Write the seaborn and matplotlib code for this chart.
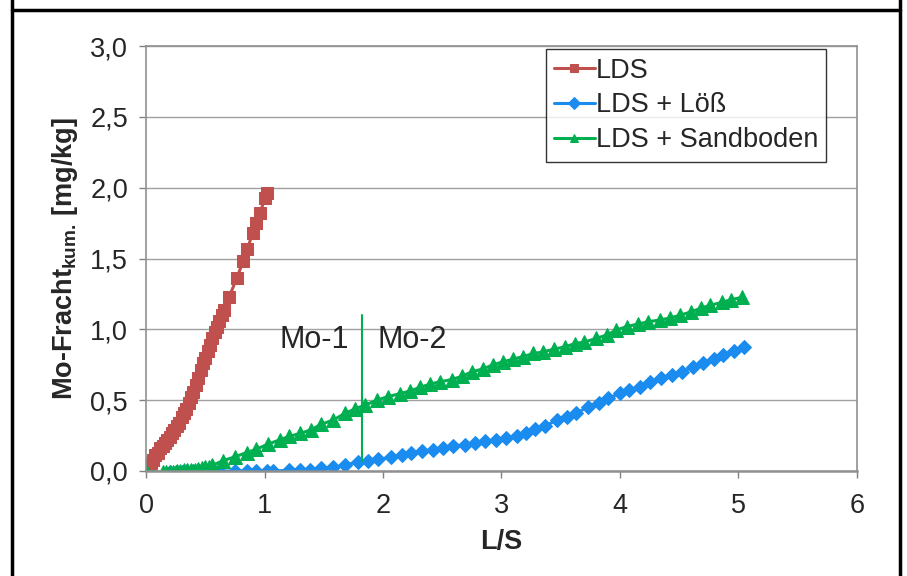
import numpy as np
import pandas as pd
import matplotlib
import matplotlib.pyplot as plt
import seaborn as sns
from matplotlib.lines import Line2D

# LDS (red squares)
lds_x = [0.00, 0.02, 0.04, 0.06, 0.08, 0.10, 0.12, 0.14, 0.16, 0.18, 0.20, 0.22,
         0.24, 0.26, 0.28, 0.30, 0.32, 0.34, 0.36, 0.38, 0.40, 0.42, 0.44, 0.46,
         0.48, 0.50, 0.52, 0.54, 0.56, 0.58, 0.60, 0.62, 0.64, 0.66,
         0.703, 0.765, 0.82, 0.855, 0.90, 0.928, 0.962, 1.005, 1.02]
lds_y = [0.00, 0.03, 0.06, 0.08, 0.11, 0.13, 0.16, 0.18, 0.20, 0.22, 0.24, 0.27,
         0.29, 0.32, 0.34, 0.38, 0.41, 0.44, 0.48, 0.52, 0.56, 0.61, 0.66, 0.71,
         0.76, 0.80, 0.85, 0.89, 0.94, 0.98, 1.02, 1.06, 1.10, 1.14,
         1.23, 1.36, 1.48, 1.565, 1.68, 1.75, 1.82, 1.93, 1.96]

# LDS + Löß (blue diamonds)
loess_x = [0.20, 0.25, 0.30, 0.35, 0.40, 0.45, 0.50, 0.55, 0.62, 0.75, 0.85, 0.93,
           1.02, 1.07, 1.21, 1.30, 1.38, 1.48, 1.58, 1.68, 1.79, 1.876, 1.96, 2.07,
           2.16, 2.24, 2.33, 2.42, 2.51, 2.59, 2.69, 2.78, 2.86, 2.95, 3.04, 3.13,
           3.21, 3.28, 3.37, 3.47, 3.55, 3.63, 3.73, 3.82, 3.90, 4.00, 4.08, 4.17,
           4.25, 4.35, 4.44, 4.52, 4.62, 4.70, 4.79, 4.87, 4.96, 5.05]
loess_y = [-0.01, -0.01, -0.005, 0.00, 0.00, 0.00, 0.00, 0.00, 0.00, 0.00, 0.00, 0.00,
           0.00, 0.00, 0.005, 0.01, 0.01, 0.02, 0.026, 0.04, 0.066, 0.073, 0.082, 0.097,
           0.113, 0.13, 0.14, 0.148, 0.16, 0.18, 0.183, 0.195, 0.21, 0.22, 0.23, 0.247,
           0.268, 0.294, 0.318, 0.36, 0.38, 0.41, 0.45, 0.478, 0.513, 0.548, 0.57, 0.595,
           0.63, 0.654, 0.677, 0.70, 0.735, 0.76, 0.79, 0.82, 0.85, 0.873]

# LDS + Sandboden (green triangles)
sand_x = [0.00, 0.14, 0.17, 0.20, 0.23, 0.26, 0.29, 0.32, 0.35, 0.38, 0.41, 0.44,
          0.47, 0.50, 0.53, 0.56, 0.65, 0.75, 0.85, 0.93, 1.03, 1.13, 1.21, 1.30,
          1.39, 1.48, 1.58, 1.68, 1.76, 1.85, 1.95, 2.04, 2.14, 2.23, 2.31, 2.40,
          2.48, 2.58, 2.67, 2.75, 2.84, 2.93, 3.01, 3.10, 3.18, 3.27, 3.35, 3.44,
          3.54, 3.62, 3.70, 3.80, 3.89, 3.97, 4.06, 4.15, 4.24, 4.34, 4.42, 4.51,
          4.60, 4.68, 4.76, 4.86, 4.94, 5.03]
sand_y = [0.00, -0.01, -0.01, -0.01, -0.005, 0.00, 0.00, 0.005, 0.005, 0.01, 0.01, 0.015,
          0.02, 0.025, 0.03, 0.04, 0.073, 0.10, 0.13, 0.153, 0.19, 0.22, 0.245, 0.265,
          0.29, 0.33, 0.36, 0.407, 0.437, 0.466, 0.50, 0.525, 0.545, 0.565, 0.59, 0.614,
          0.63, 0.645, 0.67, 0.70, 0.72, 0.75, 0.77, 0.79, 0.807, 0.83, 0.84, 0.86,
          0.877, 0.90, 0.91, 0.936, 0.96, 0.995, 1.02, 1.037, 1.054, 1.066, 1.08, 1.10,
          1.124, 1.148, 1.17, 1.19, 1.21, 1.226]

series_names = ["LDS", "LDS + Löß", "LDS + Sandboden"]
colors = ["#C0504D", "#1A8CF0", "#00B050"]
markers = ["s", "D", "^"]
msizes = [9, 7.5, 9.5]

y_ticks = [0.0, 0.5, 1.0, 1.5, 2.0, 2.5, 3.0]
y_ticklabels = ["0,0", "0,5", "1,0", "1,5", "2,0", "2,5", "3,0"]
x_ticks = [0, 1, 2, 3, 4, 5, 6]

divider_x = 1.82
divider_y = [0.07, 1.10]

FS = 19.5

sns.set_style("white")
plt.rcParams["font.family"] = ["Liberation Sans", "DejaVu Sans"]
plt.rcParams["mathtext.fontset"] = "custom"
plt.rcParams["mathtext.rm"] = "Liberation Sans"
plt.rcParams["mathtext.bf"] = "Liberation Sans:bold"

frames = []
for name, xs, ys in zip(series_names, [lds_x, loess_x, sand_x], [lds_y, loess_y, sand_y]):
    frames.append(pd.DataFrame({"L/S": xs, "Mo": ys, "Serie": name}))
df = pd.concat(frames, ignore_index=True)

fig = plt.figure(figsize=(9.07, 5.76), dpi=100)
ax = fig.add_axes([146 / 907, 105 / 576, 711 / 907, 425 / 576])

for name, c, m, ms in zip(series_names, colors, markers, msizes):
    sub = df[df["Serie"] == name]
    sns.lineplot(data=sub, x="L/S", y="Mo", sort=False, color=c, marker=m,
                 markersize=ms, markeredgecolor=c, linewidth=2.2, label=name, ax=ax)

ax.plot([divider_x, divider_x], divider_y, color="#00B050", lw=1.5)
ax.text(divider_x - 0.11, 0.925, "Mo-1", ha="right", va="center", fontsize=22)
ax.text(divider_x + 0.13, 0.925, "Mo-2", ha="left", va="center", fontsize=22)

ax.set_xlim(0, 6)
ax.set_ylim(0, 3.0)
ax.set_xticks(x_ticks)
ax.set_yticks(y_ticks)
ax.set_yticklabels(y_ticklabels)
ax.tick_params(axis="both", labelsize=FS, length=5, width=1, color="#808080",
               direction="out", bottom=True, left=True)
ax.tick_params(axis="x", pad=11)
ax.tick_params(axis="y", pad=8)
ax.yaxis.grid(True, color="#a0a0a0", lw=1)
ax.xaxis.grid(False)
for s in ax.spines.values():
    s.set_color("#909090")
    s.set_linewidth(1.2)
ax.spines["bottom"].set_linewidth(1.8)

ax.set_xlabel("L/S", fontsize=FS, fontweight="bold", labelpad=7)
ax.set_ylabel(r"Mo-Fracht$_{\mathbf{kum.}}\,$[mg/kg]", fontsize=FS, fontweight="bold", labelpad=7)

leg = ax.legend(loc="upper right", bbox_to_anchor=(0.957, 0.992), fontsize=FS,
                frameon=True, fancybox=False, edgecolor="black", handlelength=1.5,
                handletextpad=0.05, borderpad=0.3, labelspacing=0.33, borderaxespad=0)
leg.get_frame().set_linewidth(1)
for h in leg.legend_handles:
    h.set_markersize(6)

# outer black frame of the original figure box
fig.add_artist(Line2D([12 / 907, 12 / 907], [0, 1], color="black", lw=2.5, transform=fig.transFigure))
fig.add_artist(Line2D([900 / 907, 900 / 907], [0, 1], color="black", lw=2.5, transform=fig.transFigure))
fig.add_artist(Line2D([12 / 907, 900 / 907], [1 - 10 / 576, 1 - 10 / 576], color="black", lw=2.5, transform=fig.transFigure))

fig.savefig("out.png", dpi=100)
plt.close(fig)
